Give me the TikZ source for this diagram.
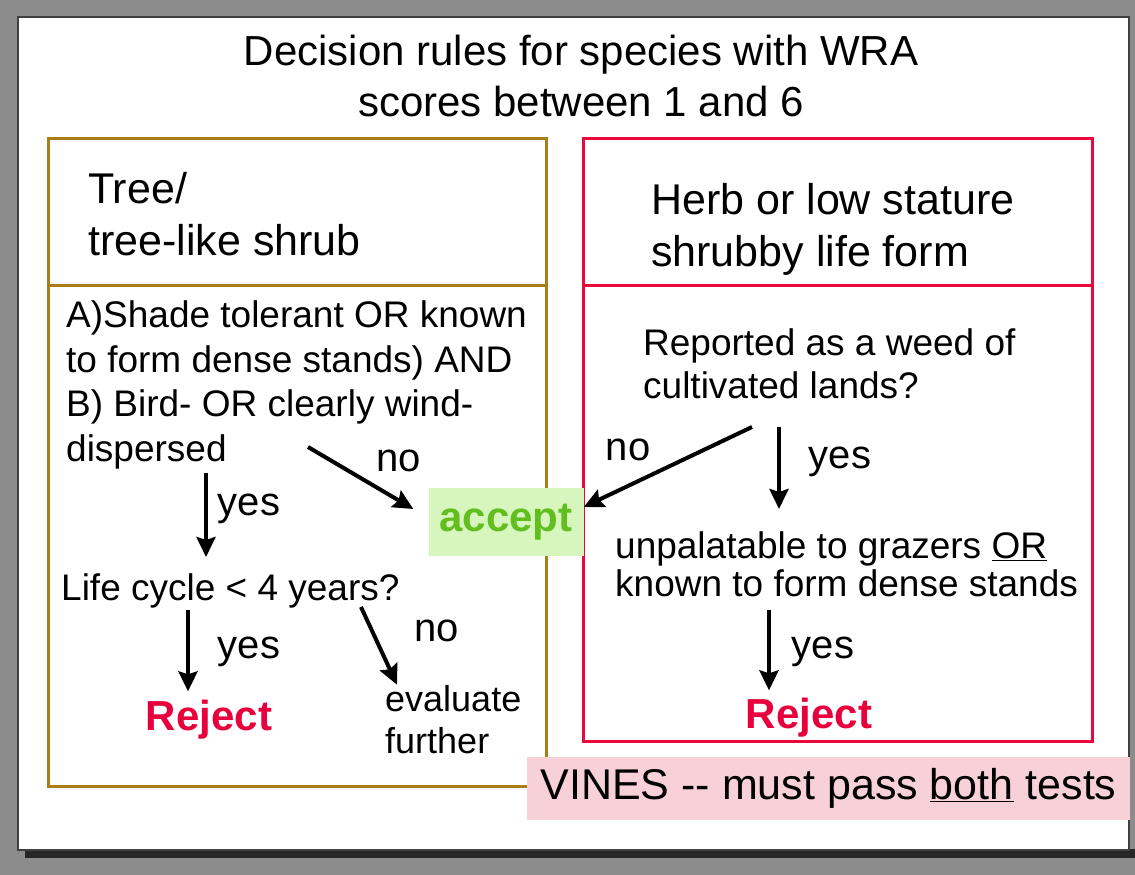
\documentclass[tikz,border=0pt]{standalone}
\usepackage{fontspec}
\setmainfont{Liberation Sans}
\usetikzlibrary{arrows.meta}

\definecolor{framegray}{RGB}{140,140,140}
\definecolor{treeline}{RGB}{170,126,22}
\definecolor{herbline}{RGB}{232,8,60}
\definecolor{rejectred}{RGB}{232,0,60}
\definecolor{acceptgreen}{RGB}{98,190,30}
\definecolor{acceptbg}{RGB}{214,246,190}
\definecolor{vinespink}{RGB}{248,208,216}

\begin{document}
\begin{tikzpicture}[x=1pt,y=-1pt,
  body/.style={font=\fontsize{37}{44.5}\selectfont,inner sep=0pt,align=left,anchor=base west},
  head/.style={font=\fontsize{43}{52}\selectfont,inner sep=0pt,align=left,anchor=base west},
  ans/.style={font=\fontsize{40}{48}\selectfont,inner sep=0pt},
  verdict/.style={font=\fontsize{42}{48}\selectfont\bfseries,text=rejectred,inner sep=0pt,anchor=base},
  arr/.style={-{Stealth[length=20pt,width=19pt,inset=3pt]},line width=4pt}]

\newcommand{\pane}[4] % [x0][x1][y1][color]
{
 \draw[#4,line width=\lw] (#1,138) rectangle (#2,#3);
 \draw[#4,line width=\lw] (#1,285) -- (#2,285);
}

\def\lw {3pt}
\useasboundingbox (0,0) rectangle (1135,875);
\fill[framegray] (0,0) rectangle (1135,875);
\fill[black!85] (25,849) rectangle (1135,858);
\filldraw[fill=white,draw=black!75,line width=1.5pt] (18,17) rectangle (1129,850);

% base of a multi-line node is its last line
\node[font=\fontsize{42}{51}\selectfont,align=center,anchor=base,inner sep=0pt] (title)
 at (581,116) {Decision rules for species with WRA\\scores between 1 and 6};

\begin{scope} %tree
 \pane{48}{546}{786}{treeline}
 \node[head] (tree) at (88,255) {Tree/\\tree-like shrub};
 \node[body] (shade) at (66,461) {A)Shade tolerant OR known\\to form dense stands) AND\\B) Bird- OR clearly wind-\\dispersed};
 \node[body] (life) at (61,600) {Life cycle < 4 years?};
 \node[verdict] (rejL) at (209,730) {Reject};
 \node[body,font=\fontsize{36}{42}\selectfont] (eval) at (385,753) {evaluate\\further};
\end{scope}

\begin{scope} %herb
 \pane{583}{1092}{741}{herbline}
 \node[head] (herb) at (651,266) {Herb or low stature\\shrubby life form};
 \node[body,font=\fontsize{37}{43}\selectfont] (weed) at (643,398) {Reported as a weed of\\cultivated lands?};
 \node[body,font=\fontsize{37}{38}\selectfont] (graze) at (615,596) {unpalatable to grazers \underline{OR}\\known to form dense stands};
 \node[verdict] (rejR) at (809,728) {Reject};
\end{scope}

\node[fill=acceptbg,text=acceptgreen,font=\fontsize{42}{48}\selectfont\bfseries,
 minimum width=155pt,minimum height=68pt,inner sep=0pt] (accept) at (506,522) {accept};

\node[fill=vinespink,font=\fontsize{43}{50}\selectfont,minimum width=603pt,
 minimum height=63pt,inner sep=0pt] (vines) at (828.5,788.5) {VINES -{}- must pass \underline{both} tests};

% answers
\node[ans] (noA) at (399,461) {no};
\node[ans] (yesA) at (249,509) {yes};
\node[ans] (yesB) at (249,652) {yes};
\node[ans] (noB) at (437,631) {no};
\node[ans] (noC) at (628,450) {no};
\node[ans] (yesC) at (840,462) {yes};
\node[ans] (yesD) at (823,652) {yes};

% arrows
\coordinate (sA) at (206,473);
\coordinate (sB) at (308,447);
\coordinate (sC) at (188,610);
\coordinate (sD) at (361,607);
\coordinate (sE) at (752,427);
\coordinate (sF) at (779,427);
\coordinate (sG) at (769,610);
\draw[arr,shorten >=16pt] (sA) -- (sA |- life.north);
\draw[arr] (sB) -- ([xshift=-15pt,yshift=13pt]accept.west);
\draw[arr,shorten >=8pt] (sC) -- (sC |- rejL.north);
\draw[arr] (sD) -- ([xshift=12pt]eval.north west);
\draw[arr] (sE) -- ([yshift=15pt]accept.east);
\draw[arr,shorten >=22pt] (sF) -- (sF |- graze.north);
\draw[arr,shorten >=7pt] (sG) -- (sG |- rejR.north);

\end{tikzpicture}
\end{document}
